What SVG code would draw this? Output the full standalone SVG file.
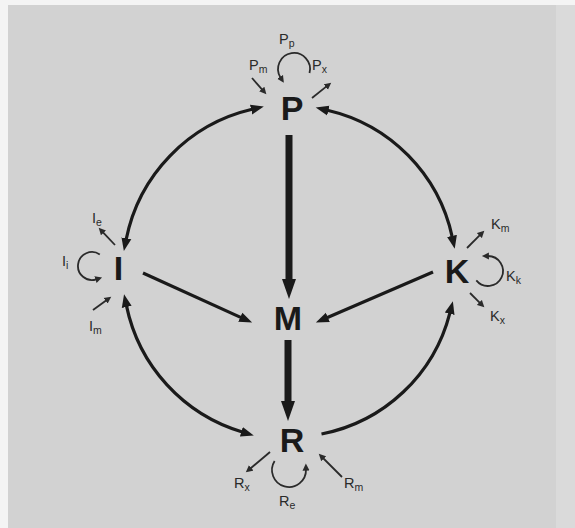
<svg xmlns="http://www.w3.org/2000/svg" width="575" height="528" viewBox="0 0 575 528">
<style>
.big{font-family:"Liberation Sans","DejaVu Sans",sans-serif;font-weight:bold;font-size:34px;fill:#1a1a1a;text-anchor:middle}
.sm{font-family:"Liberation Sans","DejaVu Sans",sans-serif;font-size:14.5px;fill:#2a2a2a}
.sub{font-size:10.5px}
.thick{fill:none;stroke:#1a1a1a;stroke-width:7}
.mid{fill:none;stroke:#1a1a1a;stroke-width:3.2}
.thin{fill:none;stroke:#2a2a2a;stroke-width:1.8}
</style>
<defs>
<marker id="ahBig" markerUnits="userSpaceOnUse" markerWidth="22" markerHeight="16" refX="1" refY="8" orient="auto-start-reverse"><path d="M0,1 L20,8 L0,15 z" fill="#1a1a1a"/></marker>
<marker id="ah" markerUnits="userSpaceOnUse" markerWidth="14" markerHeight="12" refX="1" refY="6" orient="auto-start-reverse"><path d="M0,1 L13,6 L0,11 z" fill="#1a1a1a"/></marker>
<marker id="ahS" markerUnits="userSpaceOnUse" markerWidth="8" markerHeight="8" refX="1" refY="4" orient="auto-start-reverse"><path d="M0,0.5 L7,4 L0,7.5 z" fill="#2a2a2a"/></marker>
</defs>
<rect x="0" y="0" width="575" height="528" fill="#f4f4f4"/>
<rect x="8" y="5" width="567" height="523" fill="#d2d2d2"/>
<rect x="556" y="5" width="19" height="523" fill="#dadada"/>

<g id="connectors">
<line class="thick" x1="289" y1="135" x2="289" y2="280" marker-end="url(#ahBig)"/>
<line class="thick" x1="288" y1="340" x2="288" y2="402" marker-end="url(#ahBig)"/>
<line class="mid" x1="143" y1="273" x2="241.2" y2="317.6" marker-end="url(#ah)"/>
<line class="mid" x1="433" y1="272" x2="326.9" y2="317.8" marker-end="url(#ah)"/>
<path class="mid" d="M252.1,109.3 A167,167 0 0 0 126.2,239.3" marker-start="url(#ah)" marker-end="url(#ah)"/>
<path class="mid" d="M126.5,305.9 A167,167 0 0 0 242.3,432" marker-start="url(#ah)" marker-end="url(#ah)"/>
<path class="mid" d="M321.5,434 A165,165 0 0 0 449.9,312.8" marker-end="url(#ah)"/>
<path class="mid" d="M327.4,110.3 A166,166 0 0 1 452.2,236.9" marker-start="url(#ah)" marker-end="url(#ah)"/>
<line class="thin" x1="252" y1="78" x2="262.4" y2="89.8" marker-end="url(#ahS)"/>
<line class="thin" x1="312" y1="98" x2="326.5" y2="86.4" marker-end="url(#ahS)"/>
<path class="thin" d="M309.5,73.1 A16,16 0 1 0 280.6,77.7" marker-end="url(#ahS)"/>
<line class="thin" x1="115" y1="245" x2="102.8" y2="232.1" marker-end="url(#ahS)"/>
<line class="thin" x1="93" y1="310" x2="106.4" y2="300.2" marker-end="url(#ahS)"/>
<path class="thin" d="M99.8,254.4 A14,14 0 1 0 96.4,279.3" marker-end="url(#ahS)"/>
<line class="thin" x1="467" y1="248" x2="480.1" y2="234.9" marker-end="url(#ahS)"/>
<line class="thin" x1="470" y1="293" x2="480.1" y2="303.1" marker-end="url(#ahS)"/>
<path class="thin" d="M476.3,280.4 A15,15 0 1 0 487.9,256" marker-end="url(#ahS)"/>
<line class="thin" x1="270" y1="452" x2="250.4" y2="468.5" marker-end="url(#ahS)"/>
<line class="thin" x1="342" y1="477" x2="323" y2="458" marker-end="url(#ahS)"/>
<path class="thin" d="M274.6,461 A17,17 0 1 0 306,469.6" marker-end="url(#ahS)"/>
</g>

<g id="node-P">
<text class="big" x="292" y="120">P</text>
<text class="sm" x="279" y="44">P<tspan class="sub" dy="3">p</tspan></text>
<text class="sm" x="249" y="70">P<tspan class="sub" dy="3">m</tspan></text>
<text class="sm" x="312" y="70">P<tspan class="sub" dy="3">x</tspan></text>
</g>
<g id="node-I">
<text class="big" x="118.5" y="280">I</text>
<text class="sm" x="92" y="223">I<tspan class="sub" dy="3">e</tspan></text>
<text class="sm" x="62" y="266">I<tspan class="sub" dy="3">i</tspan></text>
<text class="sm" x="89" y="331">I<tspan class="sub" dy="3">m</tspan></text>
</g>
<g id="node-K">
<text class="big" x="457" y="283">K</text>
<text class="sm" x="491" y="229">K<tspan class="sub" dy="3">m</tspan></text>
<text class="sm" x="506" y="281">K<tspan class="sub" dy="3">k</tspan></text>
<text class="sm" x="490" y="321">K<tspan class="sub" dy="3">x</tspan></text>
</g>
<g id="node-M">
<text class="big" x="288" y="330">M</text>
</g>
<g id="node-R">
<text class="big" x="292" y="452">R</text>
<text class="sm" x="234" y="488">R<tspan class="sub" dy="3">x</tspan></text>
<text class="sm" x="279" y="506">R<tspan class="sub" dy="3">e</tspan></text>
<text class="sm" x="344" y="488">R<tspan class="sub" dy="3">m</tspan></text>
</g>
</svg>
